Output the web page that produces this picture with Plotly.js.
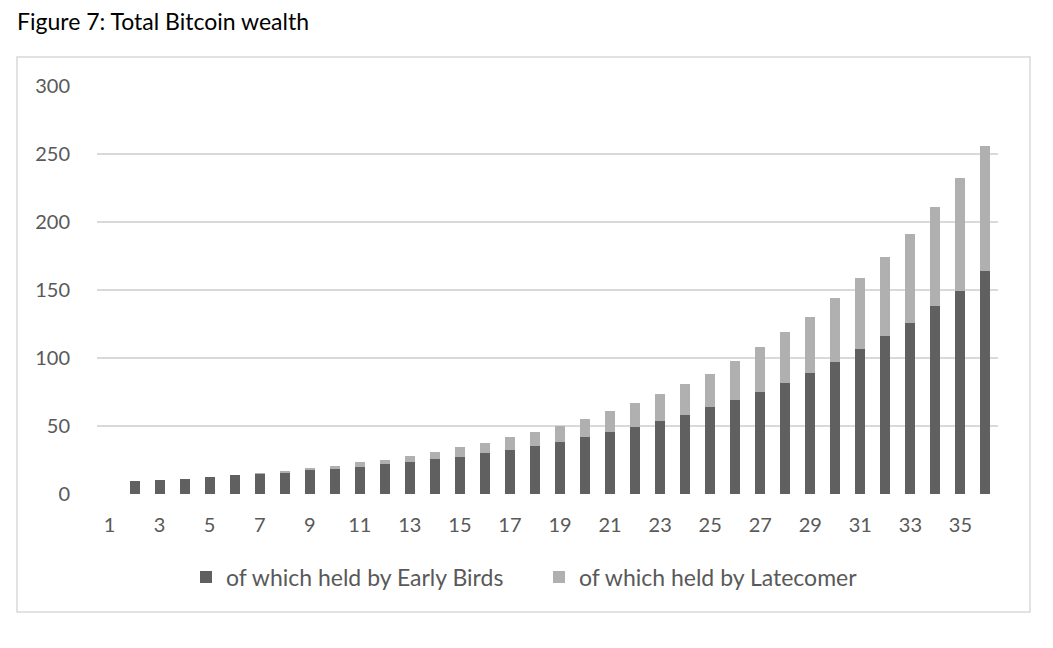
<!DOCTYPE html>
<html>
<head>
<meta charset="utf-8">
<script src="https://cdn.plot.ly/plotly-3.0.1.min.js"></script>
<style>
  body { margin: 0; background: #fff; }
  #chart { width: 1053px; height: 648px; }
</style>
</head>
<body>
<div id="chart"></div>
<script>
  // periods 1..36 (period 1 has no bar)
  const periods = [];
  for (let i = 1; i <= 36; i++) periods.push(i);

  const xTickVals = [1, 3, 5, 7, 9, 11, 13, 15, 17, 19, 21, 23, 25, 27, 29, 31, 33, 35];
  const yTickVals = [0, 50, 100, 150, 200, 250, 300];

  const earlyBirds = [null, 9.8, 10.5, 11.3, 12.3, 14.0, 14.8, 15.4, 17.4, 18.2,
    19.8, 21.8, 23.5, 25.5, 27.2, 29.9, 32.6, 35.3, 38.0, 41.6,
    45.3, 49.0, 53.4, 58.0, 63.7, 68.8, 75.2, 81.5, 88.9, 97.2,
    106.3, 116.1, 126.1, 137.9, 149.6, 164.1];

  const latecomer = [null, 0, 0, 0, 0, 0.2, 0.4, 1.8, 1.5, 2.5,
    3.7, 3.5, 4.7, 5.3, 7.1, 7.3, 9.0, 10.0, 12.0, 13.8,
    15.4, 18.1, 20.0, 22.6, 24.9, 29.2, 32.8, 37.3, 41.6, 47.0,
    52.3, 58.0, 65.1, 73.4, 82.5, 91.8];

  const font = 'Lato, "Open Sans", sans-serif';
  const grey = '#595959';

  const data = [
    {
      type: 'bar', x: periods, y: earlyBirds,
      name: 'of which held by Early Birds',
      marker: {color: '#606060'},
      hoverinfo: 'x+y'
    },
    {
      type: 'bar', x: periods, y: latecomer,
      name: 'of which held by Latecomer',
      marker: {color: '#b0b0b0'},
      hoverinfo: 'x+y'
    }
  ];

  const layout = {
    width: 1053, height: 648,
    margin: {l: 97, r: 55, t: 86, b: 154, pad: 0},
    paper_bgcolor: '#fff', plot_bgcolor: '#fff',
    barmode: 'stack',
    bargap: 0.6,
    font: {family: font, color: grey, size: 20},
    title: {
      text: 'Figure 7: Total Bitcoin wealth',
      font: {family: font, size: 23, color: '#000'},
      xref: 'container', yref: 'container',
      x: 17 / 1053, xanchor: 'left',
      y: 1 - 22 / 648, yanchor: 'middle'
    },
    xaxis: {
      type: 'linear',
      range: [0.5, 36.5],
      tickvals: xTickVals,
      ticktext: xTickVals.map(String),
      showgrid: false, zeroline: false, showline: false,
      ticks: 'outside', ticklen: 13, tickcolor: 'rgba(0,0,0,0)',
      tickfont: {family: font, size: 20, color: grey},
      fixedrange: true
    },
    yaxis: {
      range: [0, 300],
      tickvals: yTickVals,
      showgrid: true, gridcolor: '#d9d9d9', gridwidth: 1.5,
      zeroline: false, showline: false,
      ticks: 'outside', ticklen: 22, tickcolor: 'rgba(0,0,0,0)',
      tickfont: {family: font, size: 20, color: grey},
      fixedrange: true
    },
    legend: {
      orientation: 'h',
      x: (186 - 97) / 901, xanchor: 'left',
      y: (494 - 577) / 408, yanchor: 'middle',
      font: {family: font, size: 23, color: grey},
      itemwidth: 30,
      entrywidth: 308, entrywidthmode: 'pixels',
      traceorder: 'normal'
    },
    shapes: [
      {
        type: 'rect', xref: 'paper', yref: 'paper',
        x0: (17 - 97) / 901, x1: (1030 - 97) / 901,
        y0: (494 - 612) / 408, y1: (494 - 57) / 408,
        line: {color: '#d9d9d9', width: 1.5},
        fillcolor: 'rgba(0,0,0,0)',
        layer: 'below'
      }
    ],
    showlegend: true
  };

  Plotly.newPlot('chart', data, layout, {displayModeBar: false, staticPlot: true});
</script>
</body>
</html>
